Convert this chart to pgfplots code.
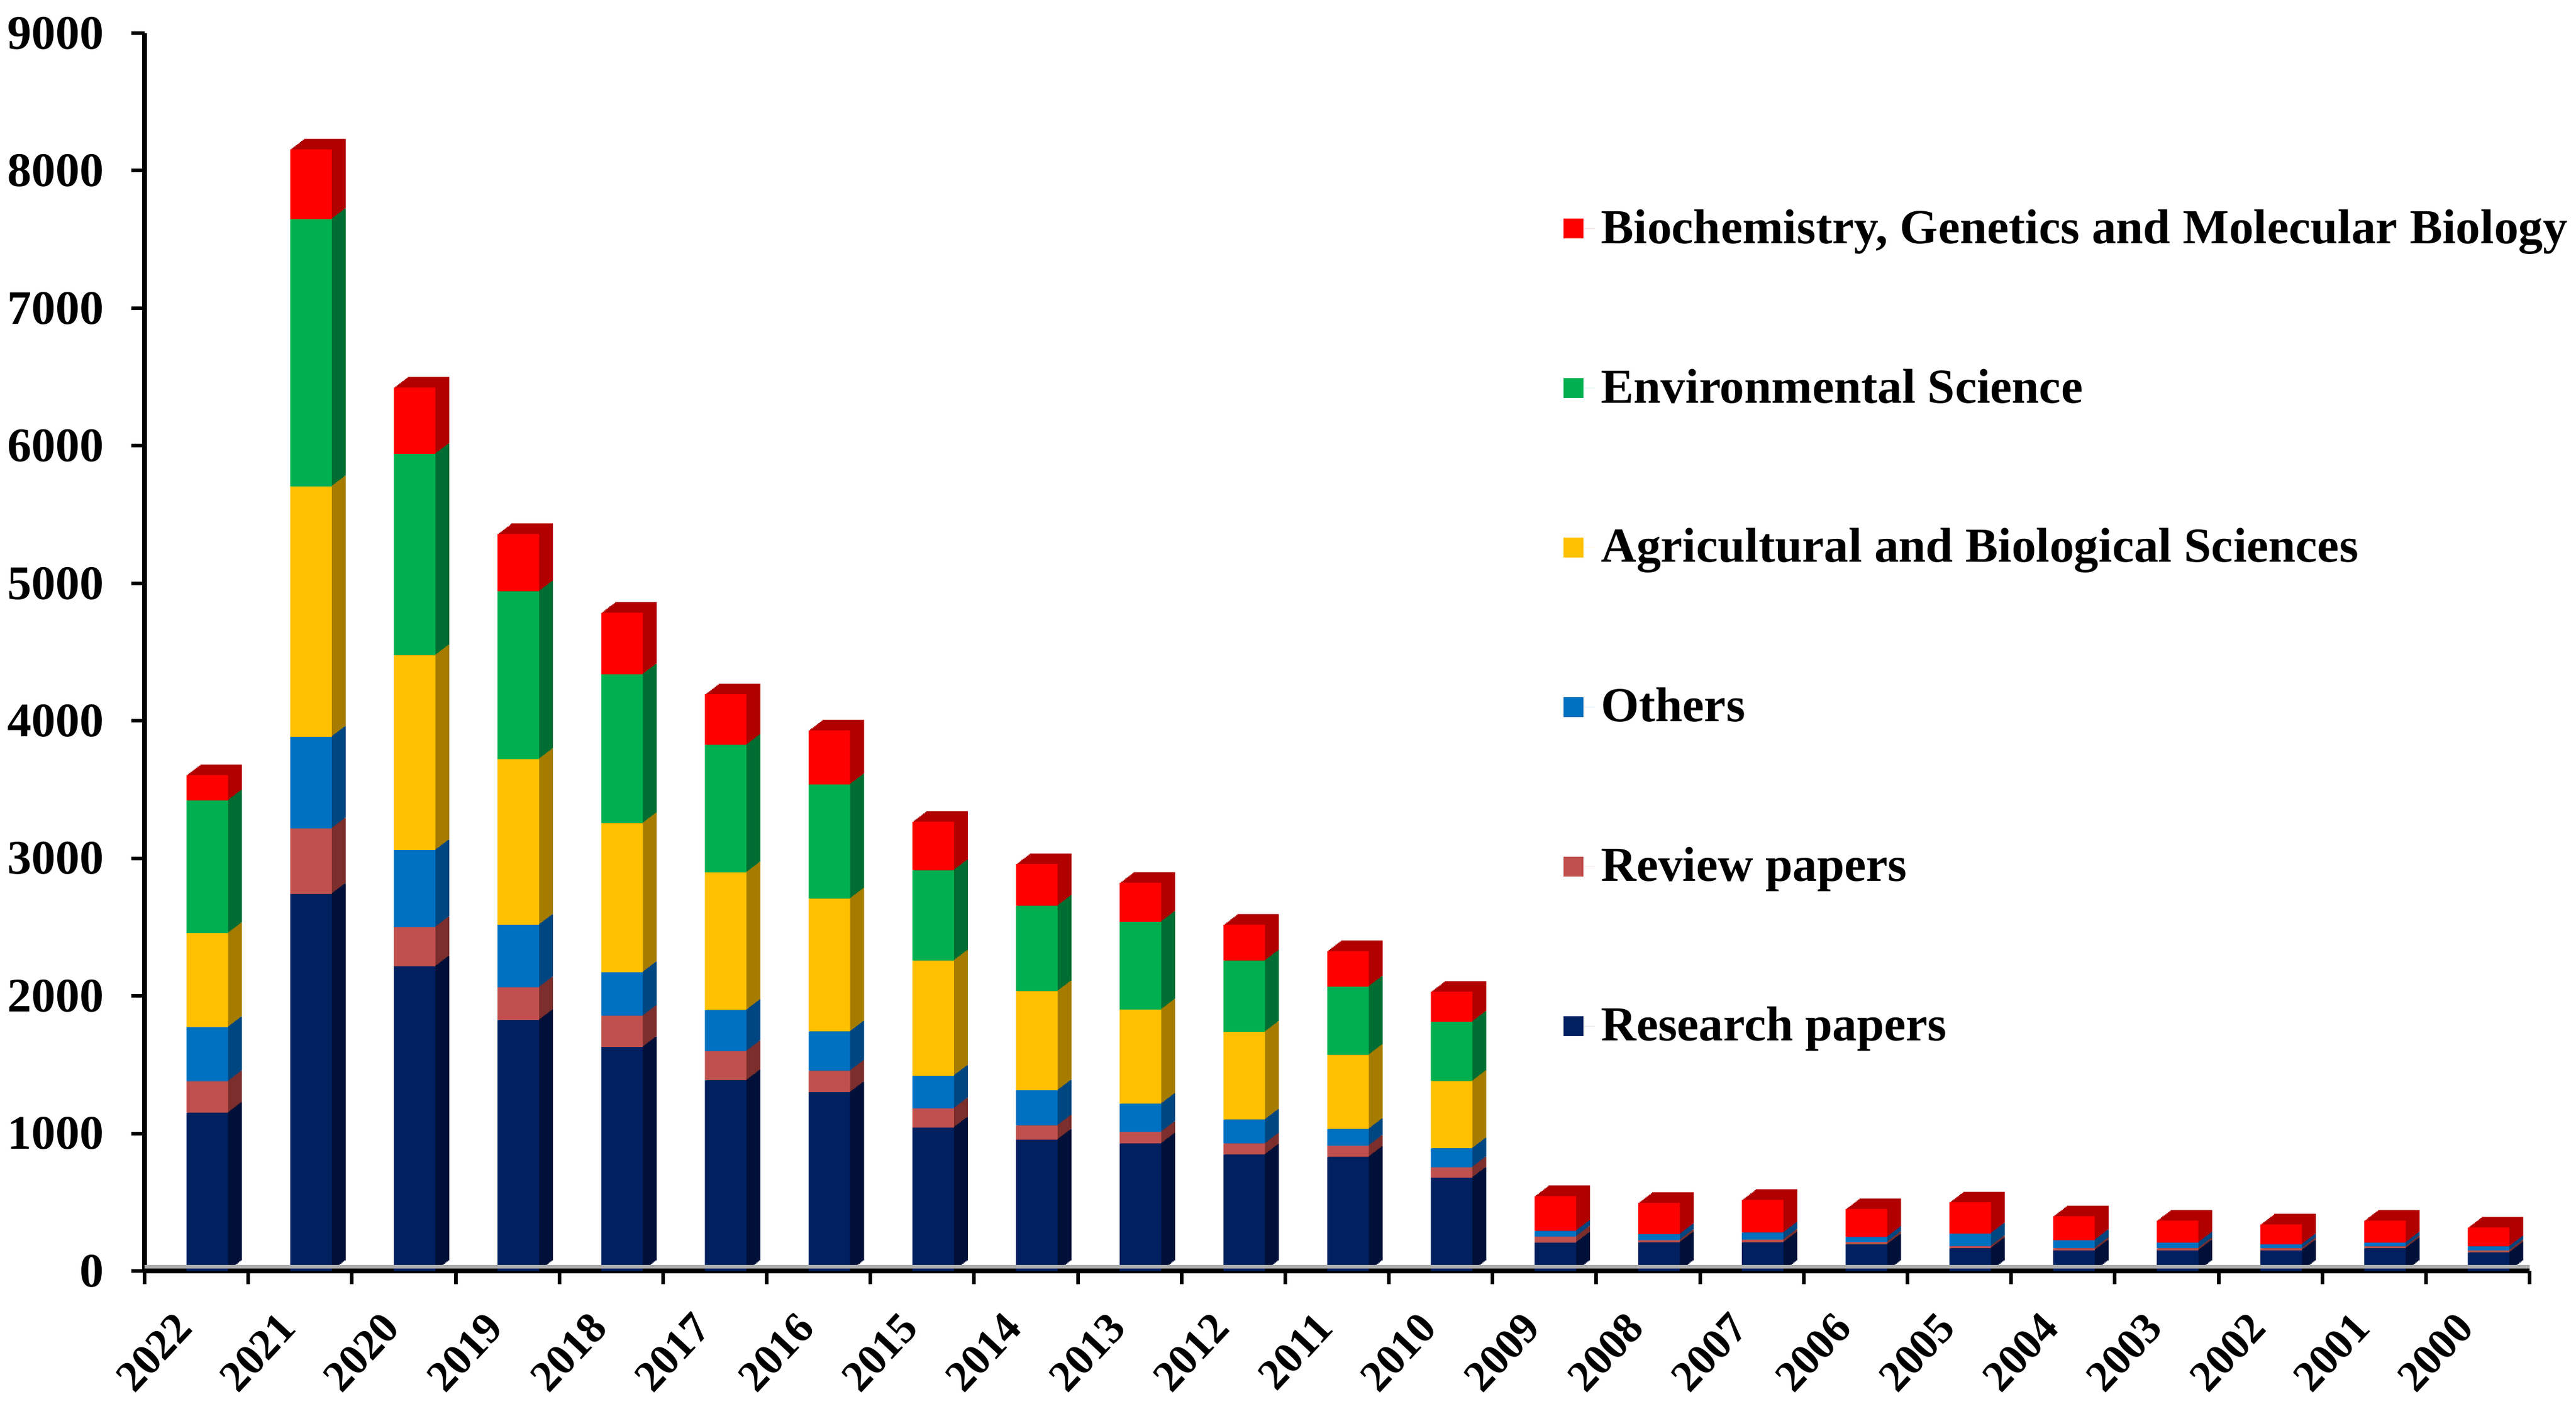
\documentclass[border=0pt]{standalone}
\usepackage{fontspec}
\setmainfont{Liberation Serif}
\usepackage{pgfplots}
\usepackage{pgfplotstable}
\pgfplotsset{compat=1.18}

\definecolor{cR}{HTML}{002060}
\definecolor{cRd}{HTML}{001038}
\definecolor{cV}{HTML}{C0504D}
\definecolor{cVd}{HTML}{7B2E2C}
\definecolor{cO}{HTML}{0070C0}
\definecolor{cOd}{HTML}{004680}
\definecolor{cA}{HTML}{FFC000}
\definecolor{cAd}{HTML}{A67C00}
\definecolor{cE}{HTML}{00B050}
\definecolor{cEd}{HTML}{006E32}
\definecolor{cB}{HTML}{FF0000}
\definecolor{cBd}{HTML}{B00000}

% x: 0 = 2022 ... 22 = 2000
% R = Research papers, V = Review papers, O = Others,
% A = Agricultural and Biological Sciences, E = Environmental Science,
% B = Biochemistry, Genetics and Molecular Biology
\pgfplotstableread{
x  R    V    O    A    E    B
0  1150 228  394  683  965  185
1  2741 476  666  1820 1944 508
2  2214 286  559  1418 1463 483
3  1824 238  455  1204 1220 418
4  1628 227  317  1083 1083 448
5  1386 211  300  1000 927  369
6  1300 155  286  966  831  393
7  1043 139  237  837  657  353
8  955  103  255  721  620  305
9  927  84   204  685  638  285
10 847  80   174  638  517  262
11 829  81   121  539  497  259
12 678  76   138  489  431  219
13 205  45   41   0    0    253
14 208  16   43   0    0    228
15 208  19   52   0    0    238
16 193  17   37   0    0    203
17 165  15   92   0    0    227
18 150  15   58   0    0    175
19 150  15   40   0    0    161
20 150  15   28   0    0    146
21 165  13   27   0    0    161
22 134  15   29   0    0    138
}\datatable

\pgfplotsset{
  base/.style={
    scale only axis, width=792pt, height=411.2pt,
    xmin=-0.5, xmax=22.5, ymin=0, ymax=9000,
    ybar stacked, bar width=13.8pt, bar shift=3.6pt,
    anchor=south west, clip=false,
  },
}

\newcommand\shadowaxis[2]{%
\begin{axis}[base, hide axis, at={(#1,#2)}]
\addplot[fill=cRd, draw=none] table[x=x,y=R]{\datatable};
\addplot[fill=cVd, draw=none] table[x=x,y=V]{\datatable};
\addplot[fill=cOd, draw=none] table[x=x,y=O]{\datatable};
\addplot[fill=cAd, draw=none] table[x=x,y=A]{\datatable};
\addplot[fill=cEd, draw=none] table[x=x,y=E]{\datatable};
\addplot[fill=cBd, draw=none] table[x=x,y=B]{\datatable};
\end{axis}}

\begin{document}
\begin{tikzpicture}
\useasboundingbox (-48pt,-44pt) rectangle (807.4pt,422.2pt);
\shadowaxis{4.6pt}{3.5pt}
\shadowaxis{4.14pt}{3.15pt}
\shadowaxis{3.68pt}{2.8pt}
\shadowaxis{3.22pt}{2.45pt}
\shadowaxis{2.76pt}{2.1pt}
\shadowaxis{2.3pt}{1.75pt}
\shadowaxis{1.84pt}{1.4pt}
\shadowaxis{1.38pt}{1.05pt}
\shadowaxis{0.92pt}{0.7pt}
\shadowaxis{0.46pt}{0.35pt}
\begin{axis}[base, at={(0pt,0pt)},
  axis x line*=bottom, axis y line*=left,
  axis line style={line width=1.6pt, black},
  tick align=outside,
  major tick length=4.4pt,
  major tick style={line width=1.2pt, black},
  xtick={-0.5,0.5,...,22.5},
  x tick label as interval,
  xticklabels={2022,2021,2020,2019,2018,2017,2016,2015,2014,2013,2012,2011,2010,2009,2008,2007,2006,2005,2004,2003,2002,2001,2000},
  xticklabel style={font=\bfseries\fontsize{14.5}{17}\selectfont, rotate=47, anchor=north east, inner sep=0pt, xshift=-11.5pt, yshift=0pt},
  ytick={0,1000,...,9000},
  yticklabel style={font=\bfseries\fontsize{16}{19}\selectfont, xshift=-5.5pt},
  /pgf/number format/1000 sep={},
  /pgf/number format/assume math mode=true,
  reverse legend,
  legend cell align=left,
  legend image code/.code={\fill[#1] (0pt,-3.3pt) rectangle (6.6pt,3.3pt); \path (0pt,0pt) -- (10.4pt,0pt);},
  legend style={at={(0.5948,0.5200)}, anchor=west, draw=none, fill=none,
    font=\bfseries\fontsize{16.25}{19}\selectfont, row sep=36.2pt, inner sep=0pt},
]
\draw[gray!65, line width=1.2pt] ([yshift=1.4pt]rel axis cs:0,0) -- ([yshift=1.4pt]rel axis cs:1,0);
\addplot[fill=cR, draw=none] table[x=x,y=R]{\datatable};
\addlegendentry{Research papers}
\addplot[fill=cV, draw=none] table[x=x,y=V]{\datatable};
\addlegendentry{Review papers}
\addplot[fill=cO, draw=none] table[x=x,y=O]{\datatable};
\addlegendentry{Others}
\addplot[fill=cA, draw=none] table[x=x,y=A]{\datatable};
\addlegendentry{Agricultural and Biological Sciences}
\addplot[fill=cE, draw=none] table[x=x,y=E]{\datatable};
\addlegendentry{Environmental Science}
\addplot[fill=cB, draw=none] table[x=x,y=B]{\datatable};
\addlegendentry{Biochemistry, Genetics and Molecular Biology}
\end{axis}
\end{tikzpicture}
\end{document}
